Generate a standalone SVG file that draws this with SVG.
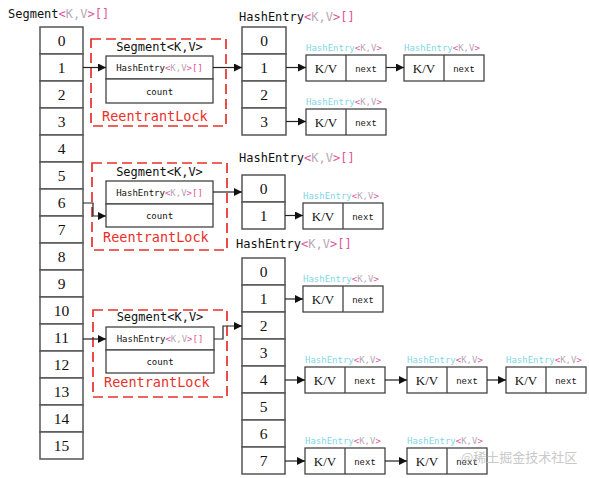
<svg xmlns="http://www.w3.org/2000/svg" width="589" height="478" viewBox="0 0 589 478">
<style>
.cell{fill:#fff;stroke:#555;stroke-width:1.5}
.box{fill:#fff;stroke:#444;stroke-width:1.3}
.lock{fill:none;stroke:#e8302a;stroke-width:1.7;stroke-dasharray:10,5}
.num{font-family:"Liberation Serif",serif;font-size:15.5px;fill:#111;text-anchor:middle}
.mono{font-family:"DejaVu Sans Mono","Liberation Mono",monospace;fill:#111}
.lbl{font-size:12px}
.small{font-size:9px}
.red{font-family:"DejaVu Sans Mono","Liberation Mono",monospace;font-size:13.5px;fill:#e8302a}
.kv{font-family:"Liberation Serif",serif;font-size:13px;fill:#111;text-anchor:middle}
.nx{font-family:"Liberation Mono",monospace;font-size:9px;fill:#111;text-anchor:middle}
.p{fill:#e0559a}
.g{fill:#b8a8b8}
.c{fill:#7fd6e6}
.conn{fill:none;stroke:#222;stroke-width:1.2}
</style>
<defs>
<marker id="ah" viewBox="0 0 8 8" refX="8" refY="4" markerWidth="8" markerHeight="8" markerUnits="userSpaceOnUse" orient="auto">
<path d="M0,0 L8,4 L0,8 z" fill="#111"/>
</marker>
<g id="entry">
<rect class="box" x="0" y="0" width="80" height="26"/>
<line x1="40" y1="0" x2="40" y2="26" stroke="#444" stroke-width="1.3"/>
<text class="kv" x="20" y="18">K/V</text>
<text class="nx" x="60" y="16.5">next</text>
<text class="mono small" x="0" y="-4"><tspan class="c">HashEntry</tspan><tspan class="p">&lt;</tspan><tspan class="g">K,V</tspan><tspan class="p">&gt;</tspan></text>
</g>
</defs>
<rect width="589" height="478" fill="#fff"/>

<g id="segment-array">
<text class="mono lbl" x="8" y="18">Segment<tspan class="p">&lt;</tspan><tspan class="g">K,V</tspan><tspan class="p">&gt;[]</tspan></text>
<rect class="cell" x="40" y="27" width="43" height="27"/><text class="num" x="61.5" y="46">0</text>
<rect class="cell" x="40" y="54" width="43" height="27"/><text class="num" x="61.5" y="73">1</text>
<rect class="cell" x="40" y="81" width="43" height="27"/><text class="num" x="61.5" y="100">2</text>
<rect class="cell" x="40" y="108" width="43" height="27"/><text class="num" x="61.5" y="127">3</text>
<rect class="cell" x="40" y="135" width="43" height="27"/><text class="num" x="61.5" y="154">4</text>
<rect class="cell" x="40" y="162" width="43" height="27"/><text class="num" x="61.5" y="181">5</text>
<rect class="cell" x="40" y="189" width="43" height="27"/><text class="num" x="61.5" y="208">6</text>
<rect class="cell" x="40" y="216" width="43" height="27"/><text class="num" x="61.5" y="235">7</text>
<rect class="cell" x="40" y="243" width="43" height="27"/><text class="num" x="61.5" y="262">8</text>
<rect class="cell" x="40" y="270" width="43" height="27"/><text class="num" x="61.5" y="289">9</text>
<rect class="cell" x="40" y="297" width="43" height="27"/><text class="num" x="61.5" y="316">10</text>
<rect class="cell" x="40" y="324" width="43" height="27"/><text class="num" x="61.5" y="343">11</text>
<rect class="cell" x="40" y="351" width="43" height="27"/><text class="num" x="61.5" y="370">12</text>
<rect class="cell" x="40" y="378" width="43" height="27"/><text class="num" x="61.5" y="397">13</text>
<rect class="cell" x="40" y="405" width="43" height="27"/><text class="num" x="61.5" y="424">14</text>
<rect class="cell" x="40" y="432" width="43" height="27"/><text class="num" x="61.5" y="451">15</text>
</g>

<g id="segment-1">
<rect class="lock" x="91" y="39" width="135" height="87"/>
<text class="mono lbl" x="159.5" y="51" text-anchor="middle">Segment&lt;K,V&gt;</text>
<rect class="box" x="106" y="56" width="107" height="23"/>
<rect class="box" x="106" y="79" width="107" height="24"/>
<text class="mono small" x="159.5" y="71" text-anchor="middle">HashEntry<tspan class="p">&lt;</tspan><tspan class="g">K,V</tspan><tspan class="p">&gt;[]</tspan></text>
<text class="mono small" x="159.5" y="95" text-anchor="middle">count</text>
<text class="red" x="102" y="121">ReentrantLock</text>
</g>

<g id="segment-2">
<rect class="lock" x="92" y="163" width="135" height="87"/>
<text class="mono lbl" x="159.5" y="176" text-anchor="middle">Segment&lt;K,V&gt;</text>
<rect class="box" x="106" y="181" width="107" height="23"/>
<rect class="box" x="106" y="204" width="107" height="23"/>
<text class="mono small" x="159.5" y="196" text-anchor="middle">HashEntry<tspan class="p">&lt;</tspan><tspan class="g">K,V</tspan><tspan class="p">&gt;[]</tspan></text>
<text class="mono small" x="159.5" y="219" text-anchor="middle">count</text>
<text class="red" x="103" y="242">ReentrantLock</text>
</g>

<g id="segment-3">
<rect class="lock" x="93" y="310" width="134" height="87"/>
<text class="mono lbl" x="160" y="321" text-anchor="middle">Segment&lt;K,V&gt;</text>
<rect class="box" x="106" y="327" width="108" height="23"/>
<rect class="box" x="106" y="350" width="108" height="23"/>
<text class="mono small" x="160" y="342" text-anchor="middle">HashEntry<tspan class="p">&lt;</tspan><tspan class="g">K,V</tspan><tspan class="p">&gt;[]</tspan></text>
<text class="mono small" x="160" y="365" text-anchor="middle">count</text>
<text class="red" x="104" y="387">ReentrantLock</text>
</g>

<g id="hash-array-1">
<text class="mono lbl" x="239" y="21">HashEntry<tspan class="p">&lt;</tspan><tspan class="g">K,V</tspan><tspan class="p">&gt;[]</tspan></text>
<rect class="cell" x="242" y="27" width="44" height="27"/><text class="num" x="264" y="46">0</text>
<rect class="cell" x="242" y="54" width="44" height="27"/><text class="num" x="264" y="73">1</text>
<rect class="cell" x="242" y="81" width="44" height="27"/><text class="num" x="264" y="100">2</text>
<rect class="cell" x="242" y="108" width="44" height="27"/><text class="num" x="264" y="127">3</text>
</g>

<g id="hash-array-2">
<text class="mono lbl" x="239" y="162">HashEntry<tspan class="p">&lt;</tspan><tspan class="g">K,V</tspan><tspan class="p">&gt;[]</tspan></text>
<rect class="cell" x="242" y="175" width="43" height="27"/><text class="num" x="263.5" y="194">0</text>
<rect class="cell" x="242" y="202" width="43" height="27"/><text class="num" x="263.5" y="221">1</text>
</g>

<g id="hash-array-3">
<text class="mono lbl" x="236" y="248">HashEntry<tspan class="p">&lt;</tspan><tspan class="g">K,V</tspan><tspan class="p">&gt;[]</tspan></text>
<rect class="cell" x="242" y="258" width="43" height="27"/><text class="num" x="263.5" y="277">0</text>
<rect class="cell" x="242" y="285" width="43" height="27"/><text class="num" x="263.5" y="304">1</text>
<rect class="cell" x="242" y="312" width="43" height="27"/><text class="num" x="263.5" y="331">2</text>
<rect class="cell" x="242" y="339" width="43" height="27"/><text class="num" x="263.5" y="358">3</text>
<rect class="cell" x="242" y="366" width="43" height="27"/><text class="num" x="263.5" y="385">4</text>
<rect class="cell" x="242" y="393" width="43" height="27"/><text class="num" x="263.5" y="412">5</text>
<rect class="cell" x="242" y="420" width="43" height="27"/><text class="num" x="263.5" y="439">6</text>
<rect class="cell" x="242" y="447" width="43" height="27"/><text class="num" x="263.5" y="466">7</text>
</g>

<g id="entry-a1"><use href="#entry" x="306" y="55"/></g>
<g id="entry-a2"><use href="#entry" x="404" y="55"/></g>
<g id="entry-a3"><use href="#entry" x="306" y="109"/></g>
<g id="entry-b1"><use href="#entry" x="303" y="203"/></g>
<g id="entry-c1"><use href="#entry" x="303" y="286"/></g>
<g id="entry-c2"><use href="#entry" x="305" y="367"/></g>
<g id="entry-c3"><use href="#entry" x="407" y="367"/></g>
<g id="entry-c4"><use href="#entry" x="506" y="367"/></g>
<g id="entry-c5"><use href="#entry" x="305" y="448"/></g>
<g id="entry-c6"><use href="#entry" x="407" y="448"/></g>

<g id="connectors">
<line class="conn" x1="83" y1="67.5" x2="106" y2="67.5" marker-end="url(#ah)"/>
<line class="conn" x1="213" y1="67.5" x2="242" y2="67.5" marker-end="url(#ah)"/>
<line class="conn" x1="286" y1="67.5" x2="306" y2="67.5" marker-end="url(#ah)"/>
<line class="conn" x1="386" y1="67.5" x2="404" y2="67.5" marker-end="url(#ah)"/>
<line class="conn" x1="286" y1="121.5" x2="306" y2="121.5" marker-end="url(#ah)"/>
<polyline class="conn" points="83,203 93,203 93,216 106,216" marker-end="url(#ah)"/>
<line class="conn" x1="213" y1="192" x2="242" y2="192" marker-end="url(#ah)"/>
<line class="conn" x1="285" y1="215.5" x2="303" y2="215.5" marker-end="url(#ah)"/>
<line class="conn" x1="83" y1="339" x2="106" y2="339" marker-end="url(#ah)"/>
<polyline class="conn" points="214,339 223,339 223,326 242,326" marker-end="url(#ah)"/>
<line class="conn" x1="285" y1="299" x2="303" y2="299" marker-end="url(#ah)"/>
<line class="conn" x1="285" y1="380" x2="305" y2="380" marker-end="url(#ah)"/>
<line class="conn" x1="385" y1="380" x2="407" y2="380" marker-end="url(#ah)"/>
<line class="conn" x1="487" y1="380" x2="506" y2="380" marker-end="url(#ah)"/>
<line class="conn" x1="285" y1="461" x2="305" y2="461" marker-end="url(#ah)"/>
<line class="conn" x1="385" y1="461" x2="407" y2="461" marker-end="url(#ah)"/>
</g>

<text x="461" y="462" font-family="'Noto Sans CJK SC',sans-serif" font-size="13" fill="#c4c4c4" opacity="0.9">@稀土掘金技术社区</text>
</svg>
